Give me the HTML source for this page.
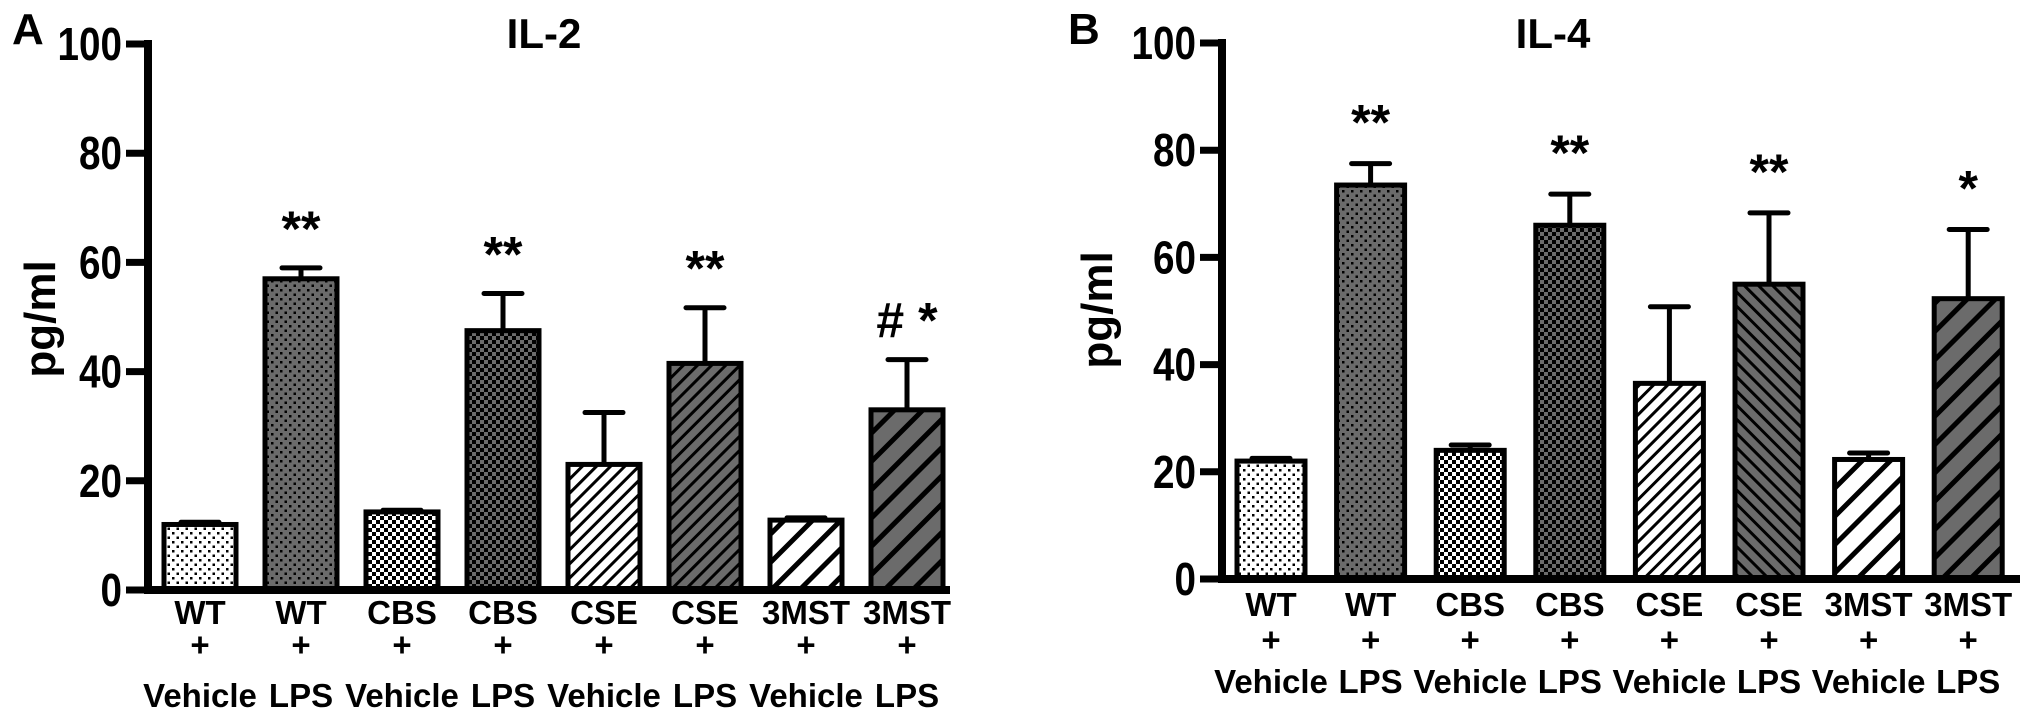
<!DOCTYPE html>
<html><head><meta charset="utf-8"><style>
html,body{margin:0;padding:0;background:#fff;}
svg text{font-family:"Liberation Sans",Arial,sans-serif;font-weight:bold;fill:#000;}
</style></head><body>
<svg id="fig" width="2031" height="719" viewBox="0 0 2031 719" xmlns="http://www.w3.org/2000/svg">
<defs>
<pattern id="pDotW" width="9" height="9" patternUnits="userSpaceOnUse"><rect width="9" height="9" fill="#fff"/><rect x="1" y="1" width="2.5" height="2.5" fill="#000"/><rect x="5.5" y="5.5" width="2.5" height="2.5" fill="#000"/></pattern>
<pattern id="pDotG" width="9" height="9" patternUnits="userSpaceOnUse"><rect width="9" height="9" fill="#6b6b6b"/><rect x="1" y="1" width="2.5" height="2.5" fill="#000"/><rect x="5.5" y="5.5" width="2.5" height="2.5" fill="#000"/></pattern>
<pattern id="pChkW" width="8" height="8" patternUnits="userSpaceOnUse"><rect width="8" height="8" fill="#fff"/><rect width="4" height="4" fill="#000"/><rect x="4" y="4" width="4" height="4" fill="#000"/></pattern>
<pattern id="pChkG" width="8" height="8" patternUnits="userSpaceOnUse"><rect width="8" height="8" fill="#6b6b6b"/><rect width="4" height="4" fill="#000"/><rect x="4" y="4" width="4" height="4" fill="#000"/></pattern>
<pattern id="pDiagW" width="10" height="10" patternUnits="userSpaceOnUse" patternTransform="rotate(45)"><rect width="10" height="10" fill="#fff"/><rect width="3" height="10" fill="#000"/></pattern>
<pattern id="pDiagG" width="10" height="10" patternUnits="userSpaceOnUse" patternTransform="rotate(45)"><rect width="10" height="10" fill="#6b6b6b"/><rect width="3" height="10" fill="#000"/></pattern>
<pattern id="pDiagGb" width="10" height="10" patternUnits="userSpaceOnUse" patternTransform="rotate(-45)"><rect width="10" height="10" fill="#6b6b6b"/><rect width="3" height="10" fill="#000"/></pattern>
<pattern id="pWideW" width="20" height="20" patternUnits="userSpaceOnUse" patternTransform="rotate(45)"><rect width="20" height="20" fill="#fff"/><rect width="5" height="20" fill="#000"/></pattern>
<pattern id="pWideG" width="20" height="20" patternUnits="userSpaceOnUse" patternTransform="rotate(45)"><rect width="20" height="20" fill="#6b6b6b"/><rect width="5" height="20" fill="#000"/></pattern>
</defs>
</svg>
<script>
const categories = ["WT","WT","CBS","CBS","CSE","CSE","3MST","3MST"];
const treatments = ["Vehicle","LPS","Vehicle","LPS","Vehicle","LPS","Vehicle","LPS"];
const il2Values = [12, 57, 14.3, 47.5, 23, 41.5, 12.8, 33];
const il2Errors = [0.4, 2, 0.3, 6.8, 9.5, 10.2, 0.4, 9.2];
const il2Marks = ["", "**", "", "**", "", "**", "", "# *"];
const il4Values = [22, 73.5, 24, 66, 36.5, 55, 22.3, 52.3];
const il4Errors = [0.5, 4, 1, 5.8, 14.3, 13.3, 1.2, 12.9];
const il4Marks = ["", "**", "", "**", "", "**", "", "*"];
const yTicks = [0, 20, 40, 60, 80, 100];

const NS = "http://www.w3.org/2000/svg";
const svg = document.getElementById('fig');
function mk(tag, attrs, parent){const e=document.createElementNS(NS,tag);for(const k in attrs)e.setAttribute(k,attrs[k]);(parent||svg).appendChild(e);return e;}

function panel(cfg){
  const g = mk('g',{});
  
  
  const y = v => cfg.y0 - (v/100)*(cfg.y0-cfg.y100);
  const x = i => cfg.x0 + i*cfg.step;
  const pl = mk('text',{x:cfg.letterX,y:cfg.letterY,'font-size':44},g); pl.textContent=cfg.letter;
   
  const t = mk('text',{x:cfg.titleX,y:48,'font-size':42,'text-anchor':'middle'},g); t.textContent=cfg.title;
   
  const yt = mk('text',{x:0,y:0,'font-size':44,'text-anchor':'middle',transform:`translate(${cfg.ylx},${cfg.yly}) rotate(-90)`},g); yt.textContent='pg/ml';
   
  cfg.values.forEach((v,i)=>{
    const cx=x(i), top=y(v), et=y(v+cfg.errors[i]);
    const eb = mk('line',{x1:cx,x2:cx,y1:top,y2:et,stroke:'#000','stroke-width':5},g);
     
    const cap = mk('line',{x1:cx-19,x2:cx+19,y1:et,y2:et,stroke:'#000','stroke-width':5,'stroke-linecap':'round'},g);
     
    const r = mk('rect',{x:cx-cfg.bw/2,y:top,width:cfg.bw,height:cfg.y0-top,fill:`url(#${cfg.fills[i]})`,stroke:'#000','stroke-width':5},g);
    
    
    if(cfg.marks[i]){
      const m = mk('text',{x:cx,y:et-cfg.markGap,'font-size':50,'text-anchor':'middle'},g); m.textContent=cfg.marks[i];
       
    }
    const l1 = mk('text',{x:cx,y:cfg.ly[0],'font-size':33,'text-anchor':'middle'},g); l1.textContent=categories[i];
     
    const l2 = mk('text',{x:cx,y:cfg.ly[1],'font-size':33,'text-anchor':'middle'},g); l2.textContent='+';
     
    const l3 = mk('text',{x:cx,y:cfg.ly[2],'font-size':33,'text-anchor':'middle'},g); l3.textContent=treatments[i];
     
  });
  const ya = mk('line',{x1:cfg.ax,x2:cfg.ax,y1:cfg.y100-4,y2:cfg.y0+4,stroke:'#000','stroke-width':8},g);
   
  const xa = mk('line',{x1:cfg.ax-4,x2:cfg.xend,y1:cfg.y0,y2:cfg.y0,stroke:'#000','stroke-width':8},g);
   
  yTicks.forEach(v=>{
    const tk = mk('line',{x1:cfg.ax-22,x2:cfg.ax,y1:y(v),y2:y(v),stroke:'#000','stroke-width':7},g);
     
    const tl = mk('text',{x:cfg.ax-26,y:y(v)+16,'font-size':46,'text-anchor':'end'},g); tl.textContent=v;
    tl.setAttribute('textLength', String(v).length*21.5); tl.setAttribute('lengthAdjust','spacingAndGlyphs');
     
  });
}

panel({name:'il2-chart',letter:'A',letterX:12,letterY:44,title:'IL-2',titleX:544,ylx:55,yly:319,
  ax:148,y0:590,y100:44,x0:200,step:101,bw:72,xend:950,values:il2Values,errors:il2Errors,marks:il2Marks,markGap:22,
  fills:['pDotW','pDotG','pChkW','pChkG','pDiagW','pDiagG','pWideW','pWideG'],ly:[624,656,707]});
panel({name:'il4-chart',letter:'B',letterX:1068,letterY:44,title:'IL-4',titleX:1553,ylx:1112,yly:310,
  ax:1222,y0:579,y100:43,x0:1271,step:99.6,bw:68,xend:2020,values:il4Values,errors:il4Errors,marks:il4Marks,markGap:24,
  fills:['pDotW','pDotG','pChkW','pChkG','pDiagW','pDiagGb','pWideW','pWideG'],ly:[616,651,693]});
</script>
</body></html>
